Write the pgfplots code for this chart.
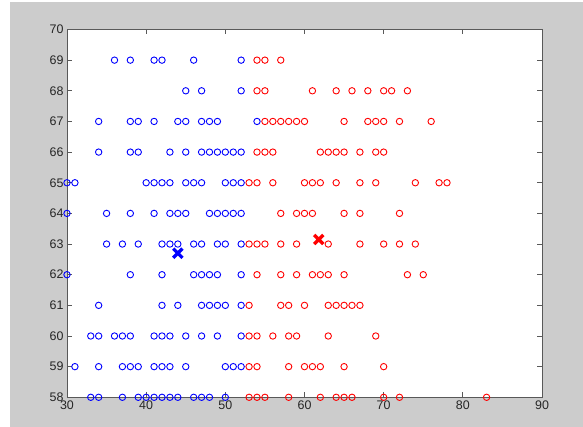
\documentclass[border=0pt]{standalone}
\usepackage{pgfplots}
\pgfplotsset{compat=1.18}
\usepackage{fontspec}
\setmainfont{Liberation Sans}
\definecolor{figgray}{RGB}{204,204,204}
\definecolor{mblue}{RGB}{0,0,255}
\definecolor{mred}{RGB}{255,0,0}
\begin{document}
\begin{tikzpicture}
\fill[white] (0bp,0bp) rectangle (583bp,427bp);
\fill[figgray] (10bp,0bp) rectangle (583bp,425bp);
\begin{axis}[
  at={(67bp,29.7bp)}, anchor=south west,
  scale only axis, width=475bp, height=367.8bp,
  xmin=30, xmax=90, ymin=58, ymax=70,
  xtick={30,40,...,90}, ytick={58,59,...,70},
  tick align=inside, major tick length=5bp,
  axis line style={black!65, line width=0.9bp},
  tick style={black!65, line width=0.8bp},
  axis background/.style={fill=white},
  ticklabel style={font=\fontsize{12.5}{14}\selectfont, text=black!85},
  /pgf/number format/assume math mode=true,
  clip=false,
]
\addplot[only marks, mark=o, mark size=3.2bp, color=mblue, mark options={line width=0.9bp}] coordinates {
(36,69)(38,69)(41,69)(42,69)(46,69)(52,69)
(45,68)(47,68)(52,68)
(34,67)(38,67)(39,67)(41,67)(44,67)(45,67)(47,67)(48,67)(49,67)(54,67)
(34,66)(38,66)(39,66)(43,66)(45,66)(47,66)(48,66)(49,66)(50,66)(51,66)(52,66)
(30,65)(31,65)(40,65)(41,65)(42,65)(43,65)(45,65)(46,65)(47,65)(50,65)(51,65)(52,65)
(30,64)(35,64)(38,64)(41,64)(43,64)(44,64)(45,64)(48,64)(49,64)(50,64)(51,64)(52,64)
(35,63)(37,63)(39,63)(42,63)(43,63)(44,63)(46,63)(47,63)(49,63)(50,63)(52,63)
(30,62)(38,62)(42,62)(46,62)(47,62)(48,62)(49,62)(52,62)
(34,61)(42,61)(44,61)(47,61)(48,61)(49,61)(50,61)(52,61)
(33,60)(34,60)(36,60)(37,60)(38,60)(41,60)(42,60)(43,60)(45,60)(47,60)(49,60)(52,60)
(31,59)(34,59)(37,59)(38,59)(39,59)(41,59)(42,59)(43,59)(45,59)(50,59)(51,59)(52,59)
(33,58)(34,58)(37,58)(39,58)(40,58)(41,58)(42,58)(43,58)(44,58)(46,58)(47,58)(48,58)(50,58)
};
\addplot[only marks, mark=o, mark size=3.2bp, color=mred, mark options={line width=0.9bp}] coordinates {
(54,69)(55,69)(57,69)
(54,68)(55,68)(61,68)(64,68)(66,68)(68,68)(70,68)(71,68)(73,68)
(55,67)(56,67)(57,67)(58,67)(59,67)(60,67)(65,67)(68,67)(69,67)(70,67)(72,67)(76,67)
(54,66)(55,66)(56,66)(62,66)(63,66)(64,66)(65,66)(67,66)(69,66)(70,66)
(53,65)(54,65)(56,65)(60,65)(61,65)(62,65)(64,65)(67,65)(69,65)(74,65)(77,65)(78,65)
(57,64)(59,64)(60,64)(61,64)(65,64)(67,64)(72,64)
(53,63)(54,63)(55,63)(57,63)(59,63)(63,63)(67,63)(70,63)(72,63)(74,63)
(54,62)(57,62)(59,62)(61,62)(62,62)(63,62)(65,62)(73,62)(75,62)
(53,61)(57,61)(58,61)(60,61)(63,61)(64,61)(65,61)(66,61)(67,61)
(53,60)(54,60)(56,60)(58,60)(59,60)(63,60)(69,60)
(53,59)(54,59)(58,59)(60,59)(61,59)(62,59)(65,59)(70,59)
(53,58)(54,58)(55,58)(58,58)(62,58)(64,58)(65,58)(66,58)(70,58)(72,58)(83,58)
};
\addplot[only marks, mark=x, mark size=6.5bp, color=mblue, mark options={line width=3.3bp}] coordinates {(44.0,62.7)};
\addplot[only marks, mark=x, mark size=6.5bp, color=mred, mark options={line width=3.3bp}] coordinates {(61.8,63.15)};
\end{axis}
\pgfresetboundingbox
\path[use as bounding box] (0bp,0bp) rectangle (583bp,427bp);
\end{tikzpicture}
\end{document}
